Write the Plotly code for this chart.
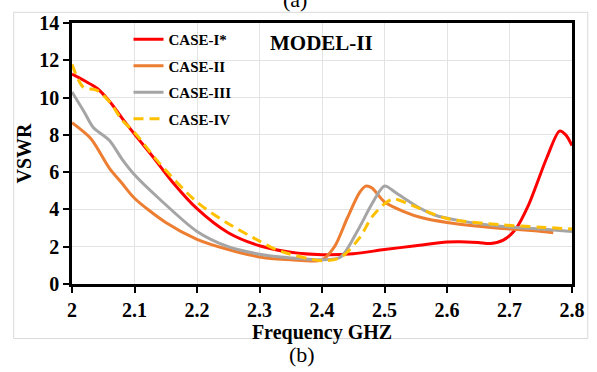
import plotly.graph_objects as go

# ---- data ----
f_case1 = [2.0, 2.02, 2.04, 2.06, 2.08, 2.1, 2.13, 2.16, 2.2, 2.25, 2.3, 2.35, 2.4, 2.45, 2.5,
           2.55, 2.6, 2.62, 2.65, 2.67, 2.69, 2.71, 2.73, 2.76, 2.78, 2.79, 2.8]
v_case1 = [11.26, 10.9, 10.5, 9.8, 8.9, 8.04, 6.8, 5.5, 4.04, 2.75, 2.05, 1.7, 1.57, 1.62, 1.85,
           2.05, 2.25, 2.27, 2.22, 2.17, 2.35, 2.95, 4.2, 6.8, 8.2, 8.0, 7.43]

f_case2 = [2.0, 2.03, 2.06, 2.08, 2.1, 2.15, 2.2, 2.25, 2.3, 2.35, 2.4, 2.42, 2.44, 2.46, 2.47,
           2.48, 2.5, 2.53, 2.56, 2.6, 2.65, 2.7, 2.74, 2.77]
v_case2 = [8.65, 7.8, 6.2, 5.4, 4.6, 3.3, 2.4, 1.85, 1.45, 1.3, 1.3, 2.0, 3.5, 4.9, 5.25,
           5.15, 4.4, 3.9, 3.55, 3.3, 3.1, 2.95, 2.85, 2.75]

f_case3 = [2.0, 2.02, 2.034, 2.06, 2.08, 2.1, 2.14, 2.2, 2.25, 2.3, 2.35, 2.4, 2.43, 2.456, 2.48,
           2.5, 2.52, 2.55, 2.58, 2.62, 2.69, 2.75, 2.8]
v_case3 = [10.3, 9.2, 8.4, 7.7, 6.7, 5.86, 4.56, 2.82, 2.0, 1.6, 1.4, 1.3, 1.45, 2.8, 4.3,
           5.26, 4.85, 4.2, 3.7, 3.4, 3.08, 2.95, 2.82]

f_case4 = [2.0, 2.018, 2.04, 2.06, 2.08, 2.1, 2.14, 2.2, 2.245, 2.3, 2.33, 2.4, 2.43, 2.46, 2.48,
           2.5, 2.515, 2.545, 2.6, 2.69, 2.75, 2.8]
v_case4 = [11.78, 10.56, 10.39, 9.78, 8.8, 8.13, 6.47, 4.39, 3.34, 2.3, 1.8, 1.25, 1.43, 2.47, 3.6,
           4.3, 4.56, 4.2, 3.51, 3.17, 3.05, 2.95]

series_names = ["CASE-I*", "CASE-II", "CASE-III", "CASE-IV"]
x_ticks = [2.0, 2.1, 2.2, 2.3, 2.4, 2.5, 2.6, 2.7, 2.8]
x_tick_labels = ["2", "2.1", "2.2", "2.3", "2.4", "2.5", "2.6", "2.7", "2.8"]
y_ticks = [0, 2, 4, 6, 8, 10, 12, 14]

SERIF = "Times New Roman, Liberation Serif, DejaVu Serif, serif"

fig = go.Figure()
styles = [
    dict(color="#FF0000", width=3),
    dict(color="#ED7D31", width=3),
    dict(color="#A5A5A5", width=3),
    dict(color="#FFC000", width=3, dash="10px,6px"),
]
for i, (fx, vy) in enumerate([(f_case1, v_case1), (f_case2, v_case2),
                              (f_case3, v_case3), (f_case4, v_case4)]):
    ln = dict(styles[i])
    ln["shape"] = "spline"
    ln["smoothing"] = 0.8
    fig.add_trace(go.Scatter(x=fx, y=vy, mode="lines", name=series_names[i],
                             line=ln, legendgroup=f"g{i}"))

fig.update_layout(
    width=597, height=372,
    margin=dict(l=72, r=19, t=16, b=88),
    paper_bgcolor="white", plot_bgcolor="white",
    font=dict(family=SERIF, color="black"),
    showlegend=True,
    legend=dict(x=0.113, y=1.0, xanchor="left", yanchor="top",
                bgcolor="rgba(0,0,0,0)", itemwidth=30, tracegroupgap=4,
                font=dict(family=SERIF, size=15, color="black", weight="bold")),
    xaxis=dict(range=[2.0, 2.8], tickvals=x_ticks, ticktext=x_tick_labels,
               showgrid=True, gridcolor="#E3E3E3", gridwidth=1,
               showline=True, linecolor="black", linewidth=2.5, mirror=True,
               ticks="outside", ticklen=6, tickwidth=2, tickcolor="black",
               tickfont=dict(family=SERIF, size=20, color="black", weight="bold"),
               title=dict(text="Frequency GHZ", standoff=2,
                          font=dict(family=SERIF, size=20, color="black", weight="bold")),
               zeroline=False),
    yaxis=dict(range=[0, 14], tickvals=y_ticks,
               showgrid=True, gridcolor="#E3E3E3", gridwidth=1,
               showline=True, linecolor="black", linewidth=2.5, mirror=True,
               ticks="outside", ticklen=6, tickwidth=2, tickcolor="black",
               tickfont=dict(family=SERIF, size=20, color="black", weight="bold"),
               title=dict(text="VSWR", standoff=3,
                          font=dict(family=SERIF, size=20, color="black", weight="bold")),
               zeroline=False),
)

fig.add_annotation(x=0.391, y=0.925, xref="paper", yref="paper", text="<b>MODEL-II</b>",
                   showarrow=False, xanchor="left", yanchor="middle",
                   font=dict(family=SERIF, size=21, color="black"))
fig.add_annotation(x=0.46, y=-0.27, xref="paper", yref="paper", text="(b)",
                   showarrow=False, xanchor="center", yanchor="middle",
                   font=dict(family=SERIF, size=22, color="black"))
fig.add_annotation(x=0.445, y=1.09, xref="paper", yref="paper", text="(a)",
                   showarrow=False, xanchor="center", yanchor="middle",
                   font=dict(family=SERIF, size=22, color="black"))
fig.add_shape(type="rect", xref="paper", yref="paper",
              x0=-0.1166, x1=1.0316, y0=-0.209, y1=1.041,
              line=dict(color="#D9D9D9", width=1), layer="below")

fig.write_html("out.html")
